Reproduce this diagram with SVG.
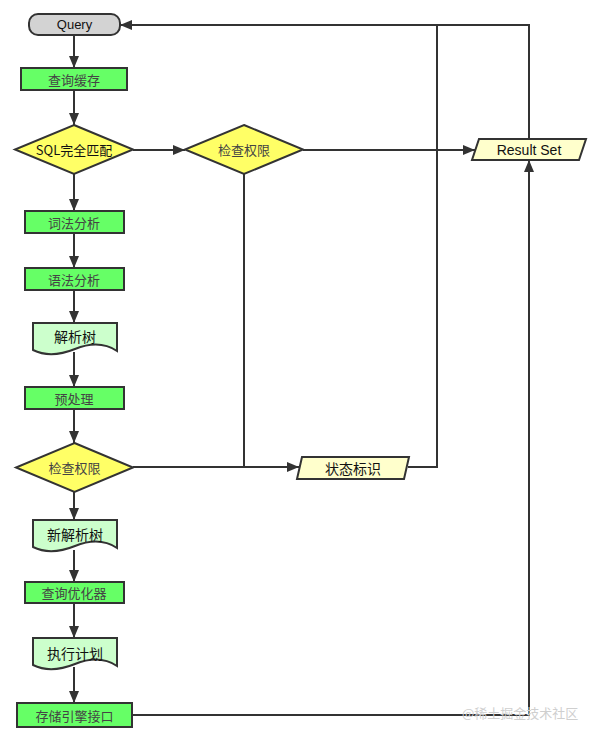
<svg xmlns="http://www.w3.org/2000/svg" width="594" height="741" viewBox="0 0 594 741">
<defs>
<marker id="ah" viewBox="0 0 12 10" refX="12" refY="5" markerWidth="12" markerHeight="10" markerUnits="userSpaceOnUse" orient="auto">
<path d="M0,0 L12,5 L0,10 z" fill="#333"/>
</marker>
<style>
.proc{fill:#66ff66;stroke:#333;stroke-width:2}
.dia{fill:#ffff66;stroke:#333;stroke-width:2}
.doc{fill:#ccffcc;stroke:#333;stroke-width:2}
.io{fill:#ffffcc;stroke:#333;stroke-width:2}
.term{fill:#d3d3d3;stroke:#333;stroke-width:2}
.ln{fill:none;stroke:#333;stroke-width:2}
.ar{fill:none;stroke:#333;stroke-width:2;marker-end:url(#ah)}
.t{font-family:"Noto Sans CJK SC","Liberation Sans",sans-serif;font-size:13px;text-anchor:middle;dominant-baseline:central}
.tg{fill:#444}
.tb{fill:#111;font-size:14px}
.wm{font-family:"Noto Sans CJK SC",sans-serif;font-size:13px;fill:#cfcfcf}
</style>
</defs>
<g id="connectors">
<path class="ar" d="M74,35 V68"/>
<path class="ar" d="M74,90 V125"/>
<path class="ar" d="M133,150 H185"/>
<path class="ar" d="M303,150 H475"/>
<path class="ar" d="M74,174 V211"/>
<path class="ar" d="M74,233 V268"/>
<path class="ar" d="M74,290 V323"/>
<path class="ar" d="M74,352 V387"/>
<path class="ar" d="M74,409 V443"/>
<path class="ar" d="M74,492 V520"/>
<path class="ar" d="M74,550 V582"/>
<path class="ar" d="M74,603 V638"/>
<path class="ar" d="M74,667 V703"/>
<path class="ln" d="M244,174 V467"/>
<path class="ar" d="M133,467 H299"/>
<path class="ln" d="M408,467 H437 V25"/>
<path class="ar" d="M529,139 V25 H120"/>
<path class="ar" d="M132,715 H529 V160"/>
</g>
<g id="query">
<rect class="term" x="29" y="14" width="91" height="21" rx="9"/>
<text class="t" x="74.5" y="24.5" style="font-family:'Liberation Sans',sans-serif;fill:#111">Query</text>
</g>
<g id="cache">
<rect class="proc" x="21" y="68" width="106" height="22"/>
<text class="t tg" x="74" y="79">查询缓存</text>
</g>
<g id="sqlmatch">
<polygon class="dia" points="74,125 133,149.5 74,174 15,149.5"/>
<text class="t" x="74" y="149.5" style="fill:#111">SQL完全匹配</text>
</g>
<g id="perm1">
<polygon class="dia" points="244,125 303,149.5 244,174 185,149.5"/>
<text class="t tg" x="244" y="149.5">检查权限</text>
</g>
<g id="resultset">
<polygon class="io" points="479,139 586,139 579,160 472,160"/>
<text class="t tb" x="529" y="150" style="font-family:'Liberation Sans',sans-serif">Result Set</text>
</g>
<g id="lexer">
<rect class="proc" x="25" y="211" width="99" height="22"/>
<text class="t tg" x="74" y="222">词法分析</text>
</g>
<g id="parser">
<rect class="proc" x="25" y="268" width="99" height="22"/>
<text class="t tg" x="74" y="279">语法分析</text>
</g>
<g id="parsetree">
<path class="doc" d="M33,323 H117 V351 C105,343 90,343 75,349 C60,355 45,356 33,350 Z"/>
<text class="t tb" x="75" y="336">解析树</text>
</g>
<g id="preprocess">
<rect class="proc" x="25" y="387" width="99" height="22"/>
<text class="t tg" x="74" y="398">预处理</text>
</g>
<g id="perm2">
<polygon class="dia" points="74.5,443 133,467.5 74.5,492 16,467.5"/>
<text class="t tg" x="74.5" y="467.5">检查权限</text>
</g>
<g id="status">
<polygon class="io" points="302,457 409,457 404,479 297,479"/>
<text class="t tb" x="353" y="468">状态标识</text>
</g>
<g id="newtree">
<path class="doc" d="M33,520 H117 V548 C105,540 90,540 75,546 C60,552 45,553 33,547 Z"/>
<text class="t tb" x="75" y="534">新解析树</text>
</g>
<g id="optimizer">
<rect class="proc" x="25" y="582" width="99" height="21"/>
<text class="t tg" x="74" y="592.5">查询优化器</text>
</g>
<g id="plan">
<path class="doc" d="M33,638 H117 V666 C105,658 90,658 75,664 C60,670 45,671 33,665 Z"/>
<text class="t tb" x="75" y="653">执行计划</text>
</g>
<g id="engine">
<rect class="proc" x="17" y="703" width="115" height="24"/>
<text class="t tg" x="74.5" y="715">存储引擎接口</text>
</g>
<text class="wm" x="462" y="718">@稀土掘金技术社区</text>
</svg>
